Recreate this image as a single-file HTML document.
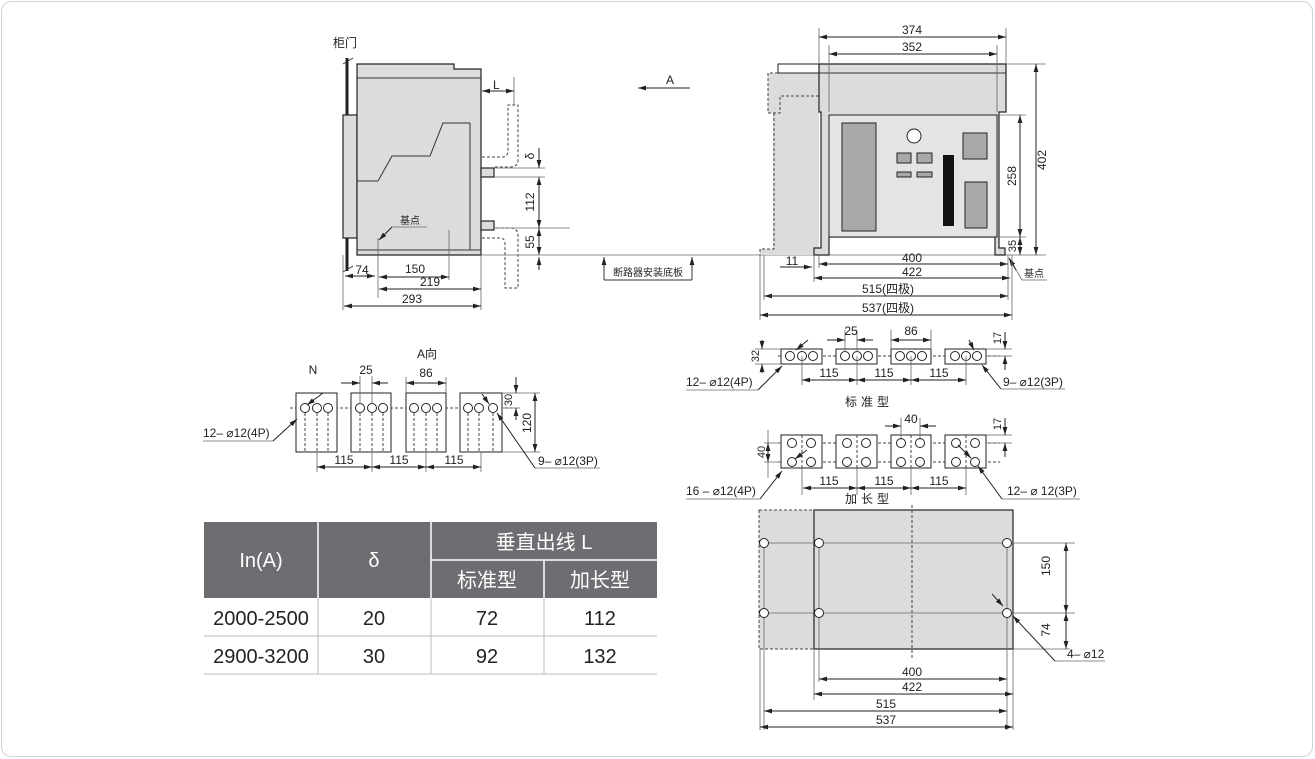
<!DOCTYPE html>
<html><head><meta charset="utf-8"><style>
html,body{margin:0;padding:0;background:#fff;}
svg{display:block;}
text{font-family:"Liberation Sans","Noto Sans CJK SC",sans-serif;fill:#222;}
.l{stroke:#333;stroke-width:1;fill:none;}
.t{stroke:#666;stroke-width:0.8;fill:none;}
.d{stroke:#444;stroke-width:1;fill:none;stroke-dasharray:3,2;}
.dm{stroke:#222;stroke-width:1;fill:none;marker-start:url(#a);marker-end:url(#a);}
.de{stroke:#222;stroke-width:1;fill:none;marker-end:url(#a);}
.g{fill:#dcdcdc;stroke:#222;stroke-width:1.2;}
.h{fill:#fff;stroke:#222;stroke-width:1;}
.s{font-size:12px;}
</style></head><body>
<svg width="1315" height="759" viewBox="0 0 1315 759" xmlns="http://www.w3.org/2000/svg">
<defs>
<marker id="a" viewBox="0 0 10 6" refX="10" refY="3" markerWidth="8" markerHeight="5" orient="auto-start-reverse" markerUnits="userSpaceOnUse"><path d="M0,0 L10,3 L0,6 z" fill="#222"/></marker>
</defs>
<rect x="1.5" y="1.5" width="1311" height="755" rx="10" fill="#fff" stroke="#d0d0d0"/>

<!-- ===== Side view ===== -->
<text x="333" y="47" font-size="12">柜门</text>
<line x1="347" y1="58" x2="347" y2="271" stroke="#222" stroke-width="3"/>
<line x1="343" y1="64" x2="353" y2="58" class="l"/>
<line x1="343" y1="272" x2="353" y2="266" class="l"/>
<rect x="343" y="115" width="14" height="123" class="g"/>
<path d="M357,64 H454 V69 H481 V255 H357 Z" class="g"/>
<line x1="357" y1="78" x2="481" y2="78" class="l"/>
<line x1="357" y1="250" x2="481" y2="250" class="l"/>
<line x1="470" y1="123" x2="470" y2="250" class="l"/>
<path d="M357,181 H378 L392,156 H430 L443,123 H470" class="l"/>
<rect x="481" y="168" width="13" height="9" class="g"/>
<rect x="481" y="221" width="13" height="9" class="g"/>
<path d="M482,157 H503 Q508,157 508,150 V105 H518 V160 Q518,167 510,167 H494" class="d"/>
<path d="M482,238 H500 Q505,238 505,244 V288 H518 V236 Q518,228 510,228 H494" class="d"/>
<line x1="514" y1="77" x2="514" y2="105" class="t"/>
<line x1="482" y1="91" x2="514" y2="91" class="dm"/>
<text x="493" y="89" class="s">L</text>
<line x1="690" y1="88" x2="638" y2="88" class="de"/>
<text x="666" y="84" class="s">A</text>
<!-- right vertical dims -->
<line x1="494" y1="168" x2="545" y2="168" class="t"/>
<line x1="494" y1="177" x2="545" y2="177" class="t"/>
<line x1="494" y1="228" x2="570" y2="228" class="t"/>
<line x1="539" y1="148" x2="539" y2="168" class="de"/>
<line x1="539" y1="177" x2="539" y2="228" class="dm"/>
<line x1="539" y1="228" x2="539" y2="255" class="dm"/>
<line x1="539" y1="270" x2="539" y2="257" class="de"/>
<text transform="translate(534,156) rotate(-90)" font-size="12" text-anchor="middle">δ</text>
<text transform="translate(534,202) rotate(-90)" font-size="12" text-anchor="middle">112</text>
<text transform="translate(534,242) rotate(-90)" font-size="12" text-anchor="middle">55</text>
<line x1="481" y1="255" x2="1046" y2="255" class="t"/>
<!-- mounting plate label -->
<path d="M604,280 V257 M692,280 V257 M604,280 H692" class="l"/>
<line x1="604" y1="268" x2="604" y2="257" class="de"/>
<line x1="692" y1="268" x2="692" y2="257" class="de"/>
<text x="648" y="276" font-size="10" text-anchor="middle">断路器安装底板</text>
<!-- 基点 -->
<text x="400" y="224" font-size="10">基点</text>
<path d="M427,227 H392 L380,239" class="t"/>
<line x1="392" y1="227" x2="379" y2="240" class="de"/>
<line x1="378" y1="238" x2="378" y2="298" class="t"/>
<line x1="449" y1="230" x2="449" y2="280" class="t"/>
<line x1="343" y1="255" x2="343" y2="310" class="t"/>
<line x1="481" y1="255" x2="481" y2="310" class="t"/>
<line x1="345" y1="276" x2="375" y2="276" class="dm"/>
<text x="362" y="274" class="s" text-anchor="middle">74</text>
<line x1="379" y1="277" x2="449" y2="277" class="dm"/>
<text x="415" y="273" class="s" text-anchor="middle">150</text>
<line x1="379" y1="289" x2="481" y2="289" class="dm"/>
<text x="430" y="286" class="s" text-anchor="middle">219</text>
<line x1="344" y1="306" x2="481" y2="306" class="dm"/>
<text x="412" y="303" class="s" text-anchor="middle">293</text>

<!-- ===== Front view ===== -->
<path d="M773,113 V249 H760 V255 H819 V96 H780 V113 Z" fill="#dcdcdc"/>
<path d="M768,73 H819 V96 H780 V113 H768 Z" fill="#dcdcdc"/>
<path d="M778,73 H768 V113 H780 V96 H819 M774,113 V249 H760 V255" class="d"/>
<rect x="778" y="64" width="41" height="9" fill="#fff" stroke="#222"/>
<path d="M819,64 H1006 V112 H999 V248 H1005 V255 H995 V237 H829 V255 H814 V248 H821 V112 H819 Z" class="g"/>
<line x1="819" y1="73" x2="1006" y2="73" class="l"/>
<rect x="829" y="115" width="168" height="122" fill="#e4e4e4" stroke="#222"/>
<rect x="842" y="123" width="34" height="108" fill="#a9a9a9" stroke="#222"/>
<circle cx="914" cy="136" r="7" fill="#fff" stroke="#222"/>
<rect x="897" y="153" width="14" height="10" fill="#a9a9a9" stroke="#222"/>
<rect x="917" y="153" width="15" height="10" fill="#a9a9a9" stroke="#222"/>
<rect x="897" y="172" width="14" height="5" fill="#a9a9a9" stroke="#222"/>
<rect x="917" y="172" width="15" height="5" fill="#a9a9a9" stroke="#222"/>
<rect x="943" y="155" width="11" height="71" fill="#111"/>
<rect x="963" y="133" width="24" height="26" fill="#a9a9a9" stroke="#222"/>
<rect x="965" y="182" width="22" height="46" fill="#a9a9a9" stroke="#222"/>
<!-- dims -->
<line x1="819" y1="28" x2="819" y2="64" class="t"/>
<line x1="1006" y1="28" x2="1006" y2="64" class="t"/>
<line x1="829" y1="45" x2="829" y2="112" class="t"/>
<line x1="997" y1="45" x2="997" y2="112" class="t"/>
<line x1="819" y1="37" x2="1006" y2="37" class="dm"/>
<text x="912" y="34" class="s" text-anchor="middle">374</text>
<line x1="829" y1="54" x2="997" y2="54" class="dm"/>
<text x="912" y="51" class="s" text-anchor="middle">352</text>
<line x1="1006" y1="64" x2="1046" y2="64" class="t"/>
<line x1="997" y1="115" x2="1026" y2="115" class="t"/>
<line x1="997" y1="237" x2="1026" y2="237" class="t"/>
<line x1="1036" y1="64" x2="1036" y2="255" class="dm"/>
<text transform="translate(1046,160) rotate(-90)" font-size="12" text-anchor="middle">402</text>
<line x1="1020" y1="115" x2="1020" y2="237" class="dm"/>
<text transform="translate(1016,176) rotate(-90)" font-size="12" text-anchor="middle">258</text>
<line x1="1020" y1="237" x2="1020" y2="255" class="dm"/>
<text transform="translate(1016,246) rotate(-90)" font-size="11" text-anchor="middle">35</text>
<path d="M1010,259 L1022,280 H1047" class="t"/>
<line x1="1016" y1="270" x2="1009" y2="258" class="de"/>
<text x="1024" y="277" font-size="10">基点</text>
<line x1="760" y1="255" x2="760" y2="320" class="t"/>
<line x1="764" y1="255" x2="764" y2="300" class="t"/>
<line x1="814" y1="255" x2="814" y2="282" class="t"/>
<line x1="819" y1="255" x2="819" y2="268" class="t"/>
<line x1="1008" y1="255" x2="1008" y2="300" class="t"/>
<line x1="1012" y1="255" x2="1012" y2="320" class="t"/>
<line x1="819" y1="264" x2="1008" y2="264" class="dm"/>
<text x="912" y="262" class="s" text-anchor="middle">400</text>
<line x1="814" y1="278" x2="1010" y2="278" class="dm"/>
<text x="912" y="276" class="s" text-anchor="middle">422</text>
<line x1="780" y1="267" x2="812" y2="267" class="de"/>
<text x="792" y="265" class="s" text-anchor="middle">11</text>
<line x1="764" y1="296" x2="1008" y2="296" class="dm"/>
<text x="888" y="293" class="s" text-anchor="middle">515(四极)</text>
<line x1="760" y1="315" x2="1012" y2="315" class="dm"/>
<text x="888" y="312" class="s" text-anchor="middle">537(四极)</text>

<!-- ===== A向 ===== -->
<text x="313" y="374" class="s" text-anchor="middle">N</text>
<text x="427" y="358" class="s" text-anchor="middle">A向</text>
<line x1="290" y1="408" x2="515" y2="408" class="d"/>
<g fill="#fff" stroke="#222">
<rect x="296" y="393" width="41" height="59"/><rect x="351" y="393" width="40" height="59"/>
<rect x="406" y="393" width="40" height="59"/><rect x="460" y="393" width="42" height="59"/>
</g>
<g class="d">
<path d="M305,408V452M317,408V452M328,408V452M360,408V452M372,408V452M383,408V452M414,408V452M426,408V452M437,408V452M468,408V452M479,408V452M493,408V452"/>
</g>
<g class="h">
<circle cx="305" cy="408" r="4.5"/><circle cx="317" cy="408" r="4.5"/><circle cx="328" cy="408" r="4.5"/>
<circle cx="360" cy="408" r="4.5"/><circle cx="372" cy="408" r="4.5"/><circle cx="383" cy="408" r="4.5"/>
<circle cx="414" cy="408" r="4.5"/><circle cx="426" cy="408" r="4.5"/><circle cx="437" cy="408" r="4.5"/>
<circle cx="468" cy="408" r="4.5"/><circle cx="479" cy="408" r="4.5"/><circle cx="493" cy="408" r="4.5"/>
</g>
<path d="M360,376V404M372,376V404M406,377V393M446,377V393" class="t"/>
<line x1="341" y1="383" x2="360" y2="383" class="de"/>
<line x1="388" y1="383" x2="372" y2="383" class="de"/>
<text x="366" y="374" class="s" text-anchor="middle">25</text>
<line x1="406" y1="383" x2="446" y2="383" class="dm"/>
<text x="426" y="377" class="s" text-anchor="middle">86</text>
<path d="M502,393H540M502,408H520M502,452H540" class="t"/>
<line x1="516" y1="377" x2="516" y2="393" class="de"/>
<line x1="516" y1="420" x2="516" y2="408" class="de"/>
<text transform="translate(512,400) rotate(-90)" font-size="11" text-anchor="middle">30</text>
<line x1="535" y1="393" x2="535" y2="452" class="dm"/>
<text transform="translate(531,423) rotate(-90)" font-size="12" text-anchor="middle">120</text>
<path d="M317,452V472M372,452V472M426,452V472M481,452V472" class="t"/>
<line x1="317" y1="467" x2="372" y2="467" class="dm"/>
<line x1="372" y1="467" x2="426" y2="467" class="dm"/>
<line x1="426" y1="467" x2="481" y2="467" class="dm"/>
<text x="344" y="464" class="s" text-anchor="middle">115</text>
<text x="399" y="464" class="s" text-anchor="middle">115</text>
<text x="454" y="464" class="s" text-anchor="middle">115</text>
<text x="203" y="437" class="s">12– ⌀12(4P)</text>
<path d="M203,441H273" class="t"/>
<line x1="273" y1="441" x2="297" y2="419" class="de"/>
<line x1="323" y1="393" x2="307" y2="405" class="de"/>
<text x="538" y="465" class="s">9– ⌀12(3P)</text>
<path d="M535,468H600" class="t"/>
<line x1="535" y1="468" x2="497" y2="413" class="de"/>
<line x1="482" y1="394" x2="489" y2="404" class="de"/>

<!-- ===== 标准型 ===== -->
<line x1="778" y1="356" x2="1000" y2="356" class="d"/>
<g fill="#fff" stroke="#222">
<rect x="781" y="349" width="41" height="15"/><rect x="836" y="349" width="41" height="15"/>
<rect x="891" y="349" width="40" height="15"/><rect x="945" y="349" width="41" height="15"/>
</g>
<g class="h">
<circle cx="790" cy="356" r="4.5"/><circle cx="802" cy="356" r="4.5"/><circle cx="813" cy="356" r="4.5"/>
<circle cx="845" cy="356" r="4.5"/><circle cx="857" cy="356" r="4.5"/><circle cx="868" cy="356" r="4.5"/>
<circle cx="900" cy="356" r="4.5"/><circle cx="911" cy="356" r="4.5"/><circle cx="922" cy="356" r="4.5"/>
<circle cx="955" cy="356" r="4.5"/><circle cx="966" cy="356" r="4.5"/><circle cx="977" cy="356" r="4.5"/>
</g>
<path d="M755,349H781M755,364H781M845,330V352M857,330V352M891,330V349M931,330V349M986,349H1012M986,356H1012" class="t"/>
<line x1="762" y1="340" x2="762" y2="349" class="de"/>
<line x1="762" y1="373" x2="762" y2="364" class="de"/>
<text transform="translate(759,356) rotate(-90)" font-size="11" text-anchor="middle">32</text>
<line x1="827" y1="340" x2="845" y2="340" class="de"/>
<line x1="873" y1="340" x2="857" y2="340" class="de"/>
<text x="851" y="335" class="s" text-anchor="middle">25</text>
<line x1="891" y1="340" x2="931" y2="340" class="dm"/>
<text x="911" y="335" class="s" text-anchor="middle">86</text>
<line x1="1005" y1="332" x2="1005" y2="349" class="de"/>
<line x1="1005" y1="370" x2="1005" y2="356" class="de"/>
<text transform="translate(1001,338) rotate(-90)" font-size="11" text-anchor="middle">17</text>
<path d="M802,356V385M857,356V385M911,356V385M966,356V385" class="t"/>
<line x1="802" y1="380" x2="857" y2="380" class="dm"/>
<line x1="857" y1="380" x2="911" y2="380" class="dm"/>
<line x1="911" y1="380" x2="966" y2="380" class="dm"/>
<text x="829" y="377" class="s" text-anchor="middle">115</text>
<text x="884" y="377" class="s" text-anchor="middle">115</text>
<text x="939" y="377" class="s" text-anchor="middle">115</text>
<text x="686" y="386" class="s">12– ⌀12(4P)</text>
<path d="M686,390H758" class="t"/>
<line x1="758" y1="390" x2="782" y2="366" class="de"/>
<line x1="808" y1="340" x2="796" y2="350" class="de"/>
<text x="1003" y="386" class="s">9– ⌀12(3P)</text>
<path d="M1001,389H1065" class="t"/>
<line x1="1001" y1="389" x2="982" y2="365" class="de"/>
<line x1="969" y1="340" x2="974" y2="350" class="de"/>
<text x="869" y="406" class="s" text-anchor="middle" letter-spacing="4">标准型</text>

<!-- ===== 加长型 ===== -->
<path d="M778,443H1000M778,462H1000" class="d"/>
<g fill="#fff" stroke="#222">
<rect x="781" y="435" width="41" height="33"/><rect x="836" y="435" width="41" height="33"/>
<rect x="891" y="435" width="40" height="33"/><rect x="945" y="435" width="41" height="33"/>
</g>
<path d="M802,435V468M857,435V468M911,435V468M966,435V468" class="d"/>
<g class="h">
<circle cx="792" cy="443" r="4.5"/><circle cx="811" cy="443" r="4.5"/><circle cx="792" cy="462" r="4.5"/><circle cx="811" cy="462" r="4.5"/>
<circle cx="847" cy="443" r="4.5"/><circle cx="866" cy="443" r="4.5"/><circle cx="847" cy="462" r="4.5"/><circle cx="866" cy="462" r="4.5"/>
<circle cx="901" cy="443" r="4.5"/><circle cx="920" cy="443" r="4.5"/><circle cx="901" cy="462" r="4.5"/><circle cx="920" cy="462" r="4.5"/>
<circle cx="956" cy="443" r="4.5"/><circle cx="975" cy="443" r="4.5"/><circle cx="956" cy="462" r="4.5"/><circle cx="975" cy="462" r="4.5"/>
</g>
<path d="M764,443H781M764,462H781M901,418V440M920,418V440M986,435H1012M986,443H1012" class="t"/>
<line x1="768" y1="443" x2="768" y2="462" class="dm"/>
<line x1="768" y1="430" x2="768" y2="443" class="t"/>
<line x1="768" y1="462" x2="768" y2="478" class="t"/>
<text transform="translate(765,452) rotate(-90)" font-size="11" text-anchor="middle">40</text>
<line x1="885" y1="426" x2="901" y2="426" class="de"/>
<line x1="936" y1="426" x2="920" y2="426" class="de"/>
<text x="911" y="423" class="s" text-anchor="middle">40</text>
<line x1="1005" y1="418" x2="1005" y2="435" class="de"/>
<line x1="1005" y1="457" x2="1005" y2="443" class="de"/>
<text transform="translate(1001,424) rotate(-90)" font-size="11" text-anchor="middle">17</text>
<path d="M802,468V495M857,468V495M911,468V495M966,468V495" class="t"/>
<line x1="803" y1="488" x2="857" y2="488" class="dm"/>
<line x1="857" y1="488" x2="911" y2="488" class="dm"/>
<line x1="911" y1="488" x2="966" y2="488" class="dm"/>
<text x="829" y="485" class="s" text-anchor="middle">115</text>
<text x="884" y="485" class="s" text-anchor="middle">115</text>
<text x="939" y="485" class="s" text-anchor="middle">115</text>
<text x="686" y="495" class="s">16 – ⌀12(4P)</text>
<path d="M686,499H760" class="t"/>
<line x1="760" y1="499" x2="782" y2="471" class="de"/>
<line x1="807" y1="450" x2="795" y2="459" class="de"/>
<text x="1007" y="495" class="s">12– ⌀ 12(3P)</text>
<path d="M1002,499H1080" class="t"/>
<line x1="1002" y1="499" x2="978" y2="466" class="de"/>
<line x1="958" y1="445" x2="971" y2="458" class="de"/>
<text x="869" y="503" class="s" text-anchor="middle" letter-spacing="4">加长型</text>

<!-- ===== Mounting plate ===== -->
<rect x="759" y="510" width="55" height="139" fill="#dcdcdc" stroke="#444" stroke-dasharray="3,2"/>
<rect x="814" y="510" width="199" height="139" class="g"/>
<line x1="912" y1="505" x2="912" y2="660" class="d"/>
<path d="M760,543H1075M760,613H1075M764,543V730M760,649V730M819,543V682M814,649V700M1007,543V730M1013,649V730M1013,649H1070" class="t"/>
<g class="h">
<circle cx="764" cy="543" r="4.5"/><circle cx="819" cy="543" r="4.5"/><circle cx="1007" cy="543" r="4.5"/>
<circle cx="764" cy="613" r="4.5"/><circle cx="819" cy="613" r="4.5"/><circle cx="1007" cy="613" r="4.5"/>
</g>
<line x1="1066" y1="543" x2="1066" y2="613" class="dm"/>
<line x1="1066" y1="613" x2="1066" y2="649" class="dm"/>
<text transform="translate(1050,566) rotate(-90)" font-size="12" text-anchor="middle">150</text>
<text transform="translate(1050,630) rotate(-90)" font-size="12" text-anchor="middle">74</text>
<line x1="992" y1="594" x2="1003" y2="606" class="de"/>
<text x="1067" y="658" class="s">4– ⌀12</text>
<path d="M1055,661H1105" class="t"/>
<line x1="1055" y1="661" x2="1013" y2="616" class="de"/>
<line x1="819" y1="679" x2="1007" y2="679" class="dm"/>
<text x="912" y="676" class="s" text-anchor="middle">400</text>
<line x1="814" y1="694" x2="1013" y2="694" class="dm"/>
<text x="912" y="691" class="s" text-anchor="middle">422</text>
<line x1="764" y1="711" x2="1007" y2="711" class="dm"/>
<text x="886" y="708" class="s" text-anchor="middle">515</text>
<line x1="760" y1="727" x2="1013" y2="727" class="dm"/>
<text x="886" y="724" class="s" text-anchor="middle">537</text>

<!-- ===== Table ===== -->
<rect x="204" y="522" width="453" height="76" fill="#6d6e71"/>
<path d="M318,522V598M431,522V598M544,560V598M431,560H657" stroke="#fff" stroke-width="1.5"/>
<g font-size="20" text-anchor="middle">
<text x="261" y="567" style="fill:#fff">In(A)</text>
<text x="374" y="567" style="fill:#fff">δ</text>
<text x="544" y="549" style="fill:#fff">垂直出线 L</text>
<text x="487" y="587" style="fill:#fff">标准型</text>
<text x="600" y="587" style="fill:#fff">加长型</text>
<text x="261" y="625">2000-2500</text><text x="374" y="625">20</text><text x="487" y="625">72</text><text x="600" y="625">112</text>
<text x="261" y="663">2900-3200</text><text x="374" y="663">30</text><text x="487" y="663">92</text><text x="600" y="663">132</text>
</g>
<path d="M204,636H657M204,674H657M318,598V674M431,598V674M544,598V674" stroke="#bbb" stroke-width="1"/>
</svg>
</body></html>
